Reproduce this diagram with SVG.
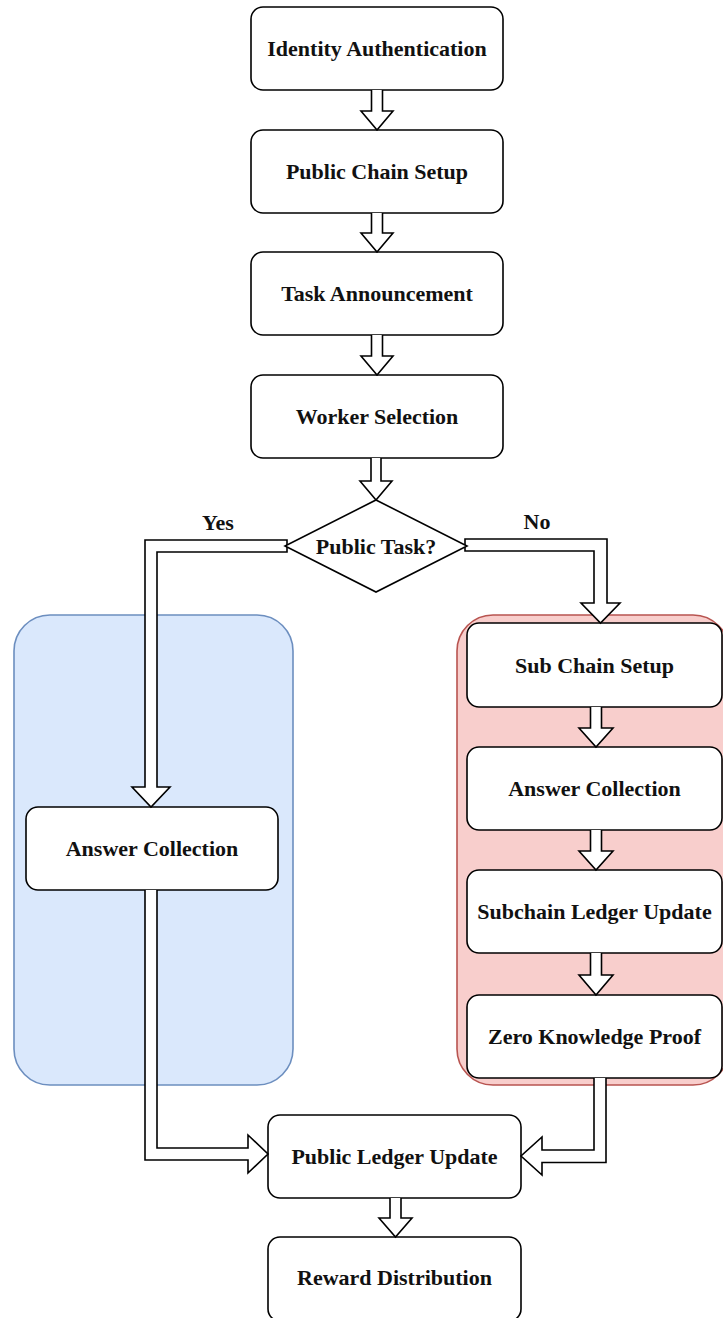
<svg xmlns="http://www.w3.org/2000/svg" width="723" height="1318" viewBox="0 0 723 1318">
  <style>
    .node { fill: #ffffff; stroke: #000000; stroke-width: 1.6; }
    .label { font-family: "Liberation Serif", "Times New Roman", serif; font-weight: bold; font-size: 22px; fill: #111111; text-anchor: middle; dominant-baseline: central; }
    .flow { fill: #ffffff; stroke: #000000; stroke-width: 1.6; stroke-linejoin: miter; }
    .lane-blue { fill: #dae8fc; stroke: #6c8ebf; stroke-width: 1.6; }
    .lane-red { fill: #f8cecc; stroke: #b85450; stroke-width: 1.6; }
  </style>

  <!-- swimlane backgrounds -->
  <g id="lane-public">
    <rect class="lane-blue" x="14" y="615" width="279" height="470" rx="36" ry="36"/>
  </g>
  <g id="lane-private">
    <rect class="lane-red" x="457" y="615" width="272" height="470" rx="36" ry="36"/>
  </g>

  <!-- main column -->
  <g id="identity-authentication">
    <rect class="node" x="251" y="7" width="252" height="83" rx="12"/>
    <text class="label" x="377" y="48">Identity Authentication</text>
  </g>
  <g id="public-chain-setup">
    <rect class="node" x="251" y="130" width="252" height="83" rx="12"/>
    <text class="label" x="377" y="171">Public Chain Setup</text>
  </g>
  <g id="task-announcement">
    <rect class="node" x="251" y="252" width="252" height="83" rx="12"/>
    <text class="label" x="377" y="293">Task Announcement</text>
  </g>
  <g id="worker-selection">
    <rect class="node" x="251" y="375" width="252" height="83" rx="12"/>
    <text class="label" x="377" y="416">Worker Selection</text>
  </g>

  <!-- public branch -->
  <g id="answer-collection-public">
    <rect class="node" x="26" y="807" width="252" height="83" rx="12"/>
    <text class="label" x="152" y="848">Answer Collection</text>
  </g>

  <!-- private branch -->
  <g id="sub-chain-setup">
    <rect class="node" x="467" y="623" width="255" height="84" rx="12"/>
    <text class="label" x="594.5" y="665">Sub Chain Setup</text>
  </g>
  <g id="answer-collection-private">
    <rect class="node" x="467" y="747" width="255" height="83" rx="12"/>
    <text class="label" x="594.5" y="788">Answer Collection</text>
  </g>
  <g id="subchain-ledger-update">
    <rect class="node" x="467" y="870" width="255" height="83" rx="12"/>
    <text class="label" x="594.5" y="911">Subchain Ledger Update</text>
  </g>
  <g id="zero-knowledge-proof">
    <rect class="node" x="467" y="995" width="255" height="83" rx="12"/>
    <text class="label" x="594.5" y="1036">Zero Knowledge Proof</text>
  </g>

  <!-- merge and finish -->
  <g id="public-ledger-update">
    <rect class="node" x="268" y="1115" width="253" height="83" rx="12"/>
    <text class="label" x="394.5" y="1156">Public Ledger Update</text>
  </g>
  <g id="reward-distribution">
    <rect class="node" x="268" y="1237" width="253" height="84" rx="12"/>
    <text class="label" x="394.5" y="1277">Reward Distribution</text>
  </g>

  <!-- block arrows -->
  <g id="connectors">
    <path class="flow" d="M371.5,90 V111 H361 L377,130 L393,111 H382.5 V90"/>
    <path class="flow" d="M371.5,213 V233 H361 L377,252 L393,233 H382.5 V213"/>
    <path class="flow" d="M371.5,335 V356 H361 L377,375 L393,356 H382.5 V335"/>
    <path class="flow" d="M371,458 V481 H360 L376,500 L392,481 H381 V458"/>

    <!-- Yes branch -->
    <path class="flow" d="M287,540 H145 V787 H132 L151,807 L170,787 H157 V552 H287 Z"/>
    <!-- No branch -->
    <path class="flow" d="M465,539 H607 V603 H620 L600.5,623 L581,603 H594 V551 H465 Z"/>

    <!-- private lane chain -->
    <path class="flow" d="M590.5,707 V728 H579 L596,747 L613,728 H601.5 V707"/>
    <path class="flow" d="M590.5,830 V851 H579 L596,870 L613,851 H601.5 V830"/>
    <path class="flow" d="M590.5,953 V975 H579 L596,995 L613,975 H601.5 V953"/>

    <!-- merges into public ledger -->
    <path class="flow" d="M145,890 V1160 H248 V1173 L268,1154 L248,1135 V1148 H157 V890"/>
    <path class="flow" d="M606,1078 V1162.5 H542 V1175 L521,1156 L542,1137 V1150 H594 V1078"/>

    <path class="flow" d="M390,1198 V1218 H379 L395.5,1237 L412,1218 H401 V1198"/>
  </g>

  <!-- decision -->
  <g id="public-task">
    <polygon class="node" points="376,500 467,546 376,592 285,546"/>
    <text class="label" x="376" y="546">Public Task?</text>
  </g>
  <g id="branch-labels">
    <text class="label" x="218" y="522">Yes</text>
    <text class="label" x="537" y="521">No</text>
  </g>
</svg>
